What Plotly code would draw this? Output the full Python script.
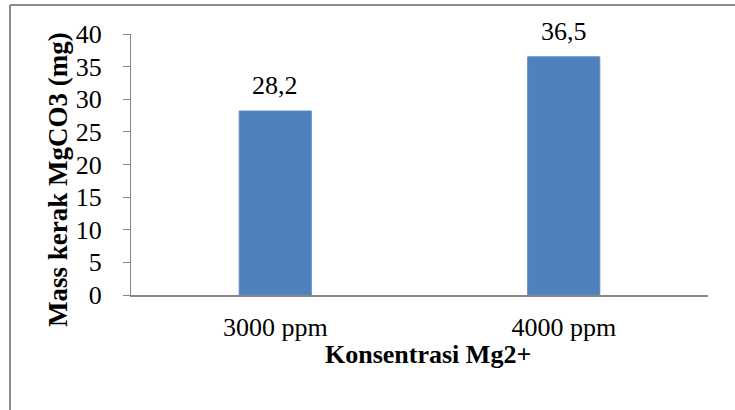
import plotly.graph_objects as go

categories = ["3000 ppm", "4000 ppm"]
values = [28.2, 36.5]
y_ticks = [0, 5, 10, 15, 20, 25, 30, 35, 40]

FONT = "Liberation Serif"
FS = 26
L, R, T, B = 131, 27, 34, 115
W, H = 735, 410
pw, ph = W - L - R, H - T - B

fig = go.Figure(go.Bar(
    x=categories, y=values, width=0.25,
    marker=dict(color="#4F81BD", line=dict(color="#5B8BC6", width=1)),
))

for c, v in zip(categories, values):
    fig.add_annotation(x=c, y=v, text=f"{v:.1f}".replace(".", ","), showarrow=False,
                       yanchor="bottom", yshift=9, font=dict(family=FONT, size=FS, color="black"))

# axis titles as annotations to match their offsets
fig.add_annotation(xref="paper", yref="paper", x=(58 - L) / pw, y=(H - B - 180) / ph,
                   text="<b>Mass kerak MgCO3 (mg)</b>", textangle=-90, showarrow=False,
                   xanchor="center", yanchor="middle", font=dict(family=FONT, size=27, color="black"))
fig.add_annotation(xref="paper", yref="paper", x=(428 - L) / pw, y=(H - B - 354) / ph,
                   text="<b>Konsentrasi Mg2+</b>", showarrow=False,
                   xanchor="center", yanchor="middle", font=dict(family=FONT, size=FS, color="black"))

fig.add_shape(type="line", xref="paper", yref="paper",
              x0=(10 - L) / pw, x1=(W + 5 - L) / pw, y0=(H - B - 5) / ph, y1=(H - B - 5) / ph,
              line=dict(color="#8c8c8c", width=2))
fig.add_shape(type="line", xref="paper", yref="paper",
              x0=(10 - L) / pw, x1=(10 - L) / pw, y0=(H - B - 5) / ph, y1=(H - B - H - 10) / ph,
              line=dict(color="#8c8c8c", width=2))

fig.update_layout(
    width=W, height=H, margin=dict(l=L, r=R, t=T, b=B),
    plot_bgcolor="white", paper_bgcolor="white", showlegend=False,
    font=dict(family=FONT, color="black"),
    xaxis=dict(showline=True, linecolor="#868686", linewidth=2, ticks="",
               tickfont=dict(family=FONT, size=FS), ticklabelstandoff=8),
    yaxis=dict(range=[0, 40], tickvals=y_ticks, showline=True, linecolor="#868686", linewidth=1,
               ticks="outside", ticklen=7, tickcolor="#868686", showgrid=False, zeroline=False,
               tickfont=dict(family=FONT, size=FS), ticklabelstandoff=16),
)

fig.write_html("out.html")
